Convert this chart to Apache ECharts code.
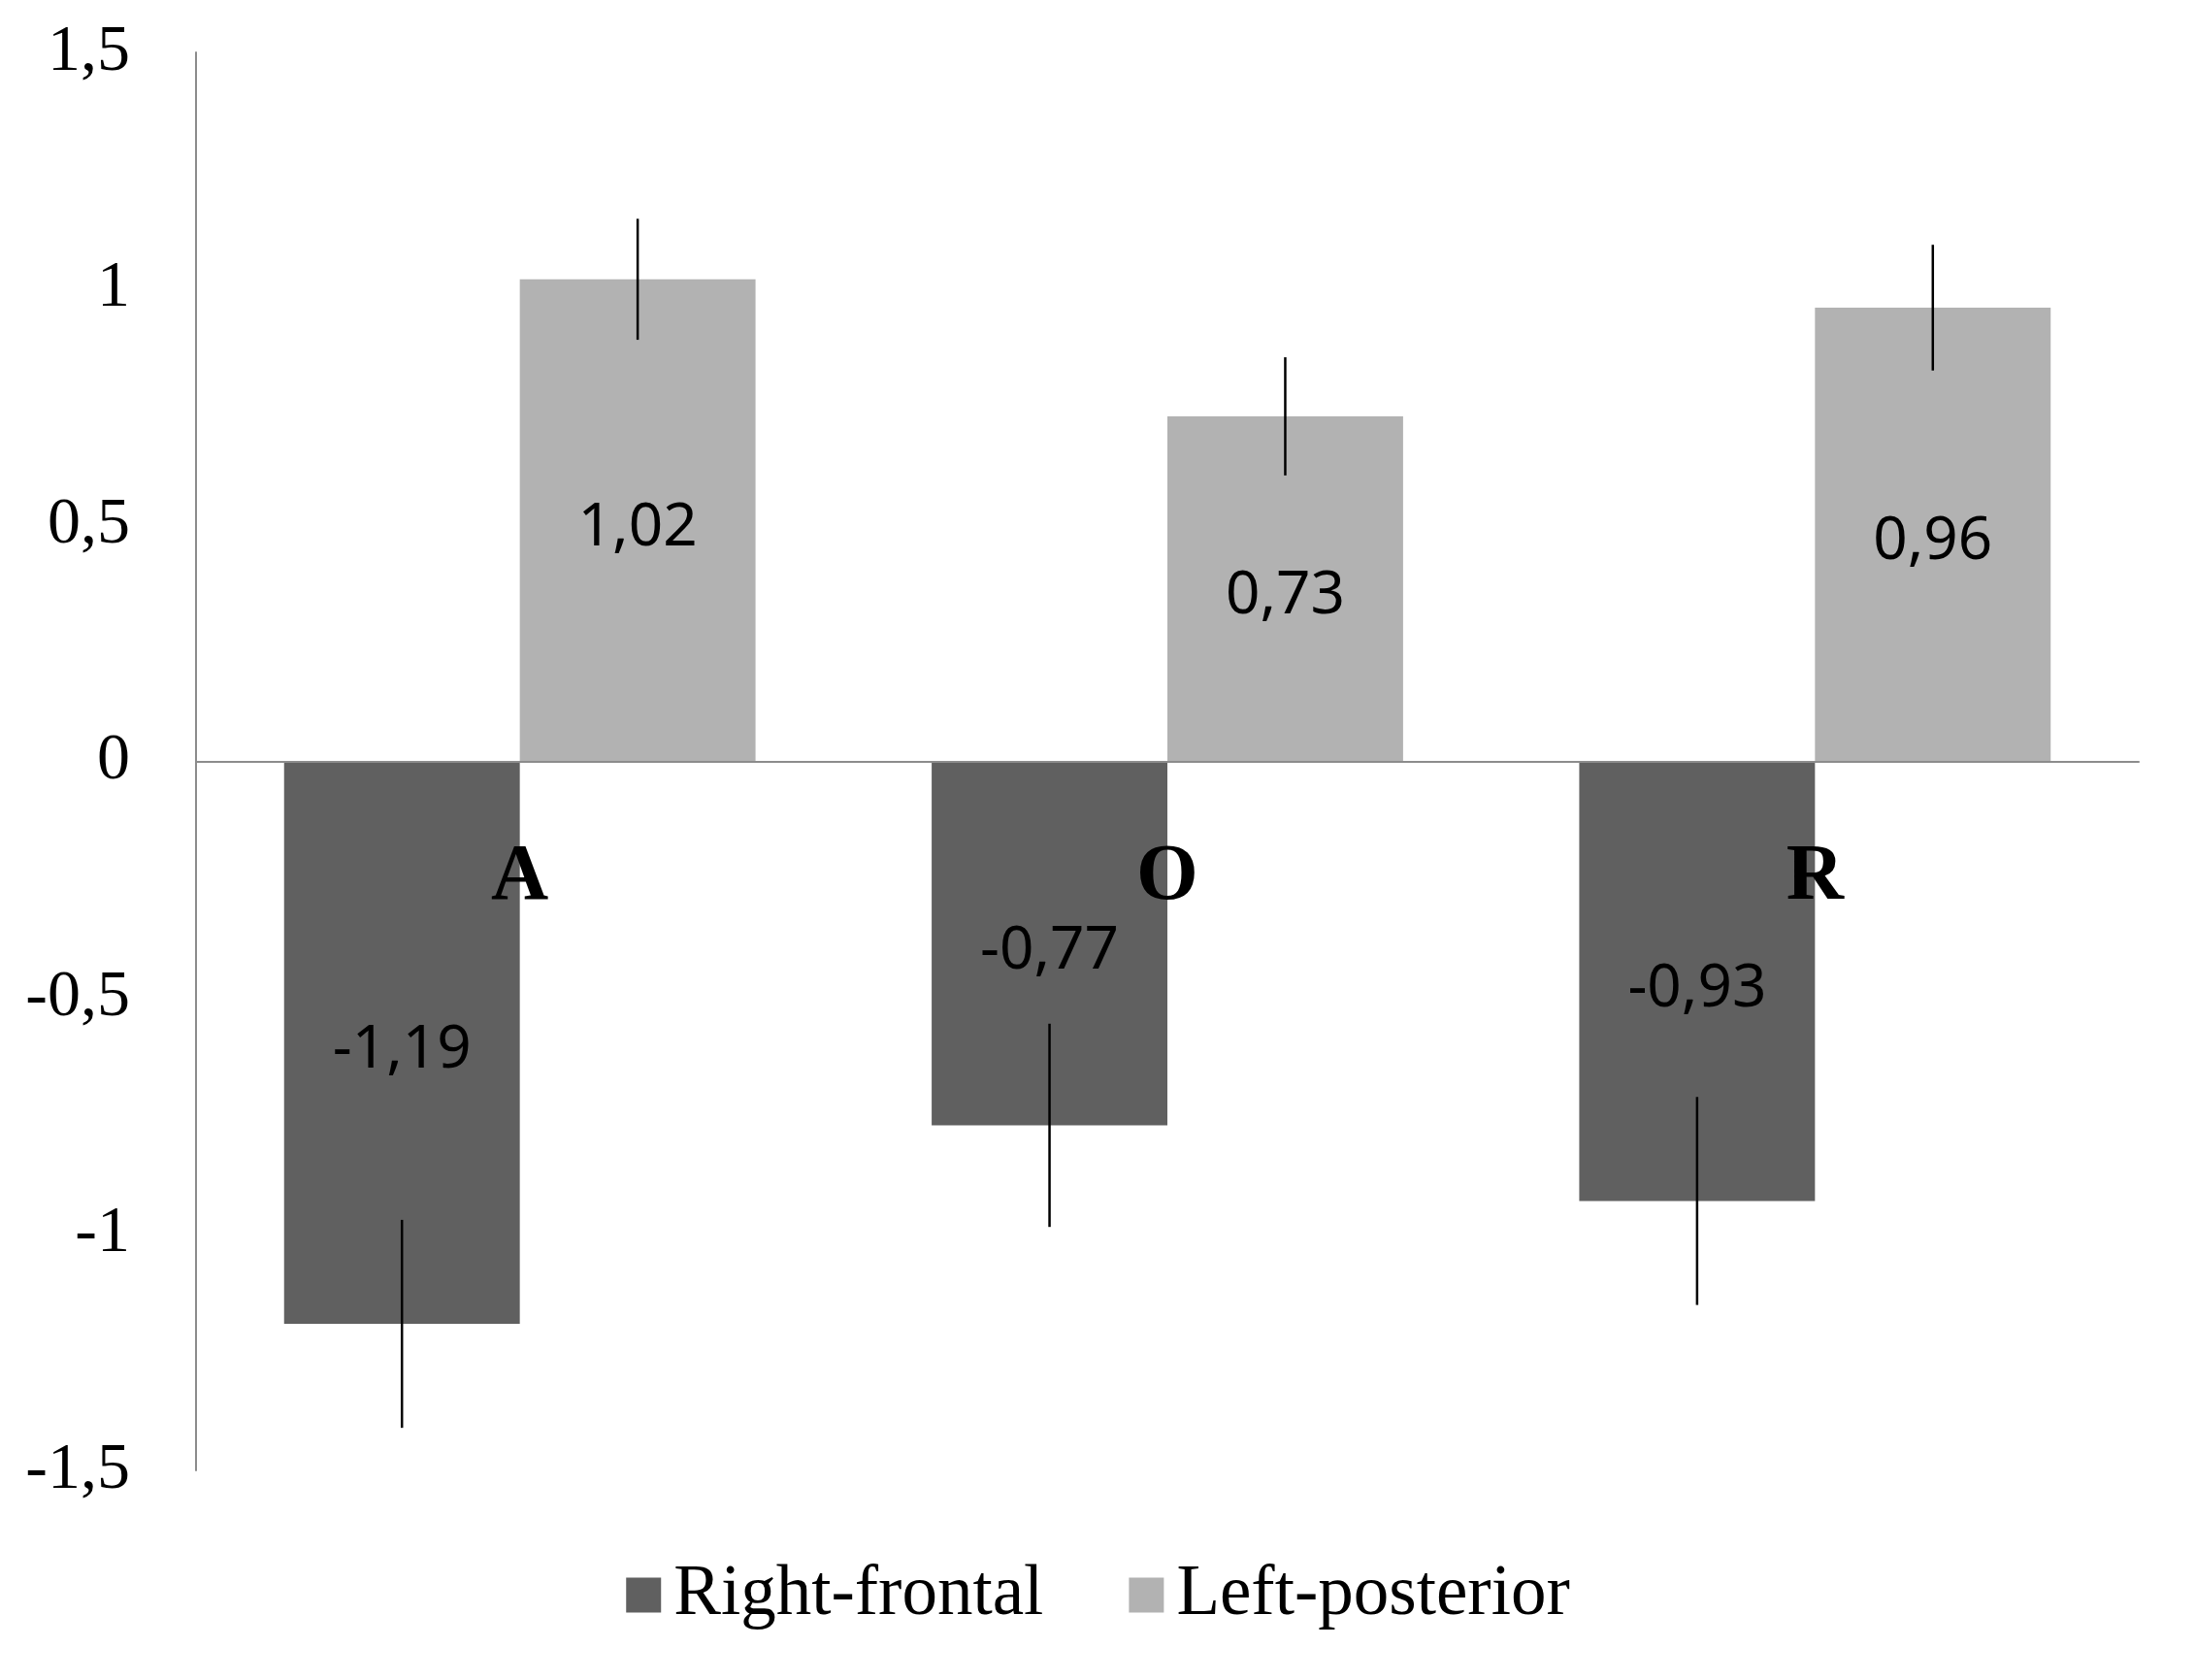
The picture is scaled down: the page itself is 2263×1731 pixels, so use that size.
<!DOCTYPE html>
<html>
<head>
<meta charset="utf-8">
<script src="https://cdn.jsdelivr.net/npm/echarts@6/dist/echarts.min.js"></script>
<style>
  html, body { margin: 0; padding: 0; background: #fff; }
  #chart { width: 2263px; height: 1731px; }
</style>
</head>
<body>
<div id="chart"></div>
<script>
const categories = ["A", "O", "R"];
const seriesNames = ["Right-frontal", "Left-posterior"];
const rightFrontal = [-1.19, -0.77, -0.93];
const leftPosterior = [1.02, 0.73, 0.96];
const rightFrontalErr = [0.22, 0.215, 0.22];
const leftPosteriorErr = [0.128, 0.125, 0.133];

const serif = "'Liberation Serif', 'DejaVu Serif', serif";
const sans = "'Noto Sans', 'Open Sans', sans-serif";
const BAR_W = 0.364; // share of the category band per bar

const fmt = v => String(v).replace(".", ",");

function errorSeries(values, errs, side) {
  const data = values.map((v, i) => [i, v, errs[i]]);
  return {
    type: "custom",
    silent: true,
    z: 5,
    data: data,
    renderItem: function (params, api) {
      const i = api.value(0), v = api.value(1), e = api.value(2);
      const band = api.size([1, 0])[0];
      const dx = side * band * BAR_W / 2;
      const top = api.coord([i, v + e]);
      const bot = api.coord([i, v - e]);
      return {
        type: "line",
        shape: { x1: top[0] + dx, y1: top[1], x2: bot[0] + dx, y2: bot[1] },
        style: { stroke: "#000", lineWidth: 2.5 }
      };
    }
  };
}

const valueLabel = {
  show: true,
  position: "inside",
  offset: [0, 8],
  fontFamily: sans,
  fontSize: 62,
  color: "#000",
  formatter: p => fmt(p.value)
};

const chart = echarts.init(document.getElementById("chart"));
chart.setOption({
  backgroundColor: "#fff",
  animation: false,
  grid: { left: 202, right: 59, top: 54, bottom: 216 },
  legend: {
    data: seriesNames,
    left: "center",
    top: 1602,
    itemWidth: 36,
    itemHeight: 36,
    itemGap: 88,
    icon: "rect",
    textStyle: { fontFamily: serif, fontSize: 73, color: "#000", padding: [0, 0, 0, 8] }
  },
  xAxis: {
    type: "category",
    data: categories,
    z: 10,
    axisLine: { onZero: true, lineStyle: { color: "#8c8c8c", width: 2 } },
    axisTick: { show: false },
    axisLabel: {
      // labels sit just under the zero line, not at the bottom of the grid
      margin: -651,
      fontFamily: serif,
      fontWeight: "bold",
      fontSize: 82,
      color: "#000"
    }
  },
  yAxis: {
    type: "value",
    min: -1.5,
    max: 1.5,
    interval: 0.5,
    axisLine: { show: true, lineStyle: { color: "#8c8c8c", width: 2 } },
    axisTick: { show: false },
    splitLine: { show: false },
    axisLabel: {
      margin: 68,
      fontFamily: serif,
      fontSize: 68,
      color: "#000",
      formatter: v => fmt(v)
    }
  },
  series: [
    {
      name: seriesNames[0],
      type: "bar",
      data: rightFrontal,
      barWidth: (BAR_W * 100) + "%",
      barGap: "0%",
      itemStyle: { color: "#606060" },
      label: valueLabel
    },
    {
      name: seriesNames[1],
      type: "bar",
      data: leftPosterior,
      barWidth: (BAR_W * 100) + "%",
      barGap: "0%",
      itemStyle: { color: "#b2b2b2" },
      label: valueLabel
    },
    errorSeries(rightFrontal, rightFrontalErr, -1),
    errorSeries(leftPosterior, leftPosteriorErr, 1)
  ]
});
window.onresize = function () { chart.resize(); };
</script>
</body>
</html>
